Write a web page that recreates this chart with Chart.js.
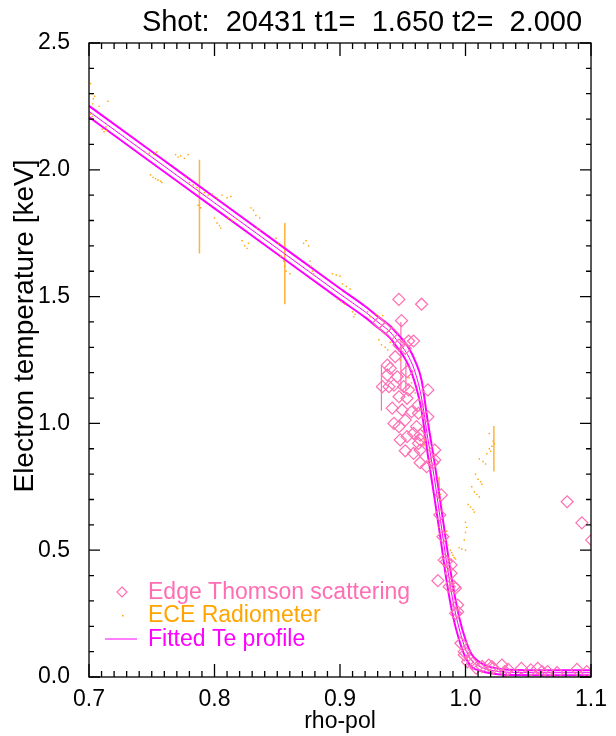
<!DOCTYPE html>
<html>
<head>
<meta charset="utf-8">
<script src="https://cdn.jsdelivr.net/npm/chart.js@4.4.1/dist/chart.umd.min.js"></script>
<style>
  body { margin: 0; background: #fff; }
  canvas { display: block; }
</style>
</head>
<body>
<canvas id="myChart" width="616" height="736"></canvas>
<script>
const ctx = document.getElementById("myChart");

const titleText = "Shot:  20431 t1=  1.650 t2=  2.000";
const xTitle = "rho-pol";
const yTitle = "Electron temperature [keV]";
const xTicks = [0.7, 0.8, 0.9, 1.0, 1.1];
const yTicks = [0.0, 0.5, 1.0, 1.5, 2.0, 2.5];

// fitted Te profile (centre and two bounds)
const fitRho = [0.70, 0.75, 0.80, 0.85, 0.90, 0.92, 0.93, 0.94, 0.945, 0.95, 0.955, 0.96, 0.965, 0.97,
  0.975, 0.98, 0.985, 0.99, 0.995, 1.00, 1.005, 1.01, 1.015, 1.02, 1.03, 1.04, 1.06, 1.10];
const fitTe = [2.23, 2.05, 1.87, 1.69, 1.51, 1.44, 1.40, 1.36, 1.33, 1.30, 1.26, 1.20, 1.10, 0.94,
  0.79, 0.62, 0.45, 0.30, 0.19, 0.11, 0.064, 0.045, 0.034, 0.027, 0.020, 0.018, 0.017, 0.017];
const fitTeUpper = [2.252, 2.072, 1.892, 1.712, 1.532, 1.462, 1.422, 1.384, 1.357, 1.33, 1.295, 1.245, 1.17, 1.005,
  0.856, 0.69, 0.517, 0.36, 0.235, 0.147, 0.089, 0.063, 0.048, 0.039, 0.031, 0.028, 0.027, 0.027];
const fitTeLower = [2.208, 2.028, 1.848, 1.668, 1.488, 1.418, 1.378, 1.336, 1.303, 1.27, 1.225, 1.155, 1.05, 0.875,
  0.716, 0.55, 0.377, 0.24, 0.145, 0.077, 0.039, 0.027, 0.02, 0.015, 0.009, 0.008, 0.007, 0.007];

// edge Thomson scattering
const tsRho = [0.9469, 0.965, 0.949, 0.931, 0.936, 0.9416, 0.9547, 0.9586, 0.947, 0.952, 0.944, 0.9377, 0.940,
  0.9377, 0.9456, 0.9534, 0.9338, 0.939, 0.943, 0.9508, 0.9547, 0.970, 0.947, 0.9534, 0.9416, 0.9495, 0.957,
  0.9625, 0.970, 0.943, 0.947, 0.952, 0.961, 0.9534, 0.9586, 0.9638, 0.948, 0.9625, 0.952, 0.9586, 0.9638,
  0.9638, 0.969, 0.9755, 0.9755, 0.9625, 0.964, 0.974,
  0.9807, 0.9795, 0.982, 0.978, 0.983, 0.9847, 0.9885, 0.9885, 0.987, 0.991, 0.992, 0.9938, 0.9938, 0.992,
  0.9963, 0.999, 0.999, 1.0016, 1.0055, 1.0085, 1.0133, 1.0185, 1.021, 1.022, 1.029, 1.0315, 1.034, 1.0445,
  1.052, 1.0576, 1.061, 1.0654, 1.073, 1.0888, 1.0966, 1.081, 1.0927, 1.1005];
const tsTe = [1.489, 1.470, 1.405, 1.397, 1.375, 1.355, 1.325, 1.325, 1.309, 1.296, 1.263, 1.230, 1.217,
  1.191, 1.184, 1.204, 1.145, 1.145, 1.151, 1.145, 1.132, 1.132, 1.105, 1.099, 1.060, 1.053, 1.046,
  1.073, 1.026, 1.000, 0.987, 1.013, 0.987, 0.948, 0.961, 0.954, 0.935, 0.921, 0.892, 0.882, 0.895,
  0.845, 0.829, 0.856, 0.895, 1.040, 0.935, 0.845,
  0.718, 0.639, 0.553, 0.380, 0.461, 0.455, 0.442, 0.409, 0.356, 0.356, 0.350, 0.284, 0.257, 0.251,
  0.133, 0.100, 0.087, 0.060, 0.054, 0.035, 0.041, 0.047, 0.041, 0.035, 0.047, 0.022, 0.030, 0.034,
  0.028, 0.034, 0.021, 0.021, 0.017, 0.030, 0.021, 0.691, 0.608, 0.540];
const tsErrRho = [0.933, 0.9485, 0.9525];
const tsErrLow = [1.05, 1.13, 1.13];
const tsErrHigh = [1.23, 1.40, 1.24];

// ECE radiometer
const eceRho = [0.7013, 0.7025, 0.7035, 0.7045, 0.703, 0.701, 0.7025, 0.7035, 0.708, 0.7105, 0.712, 0.714, 0.715, 0.7135,
  0.745, 0.748, 0.752, 0.754, 0.749, 0.751, 0.753, 0.755, 0.757, 0.758,
  0.769, 0.771, 0.773, 0.776, 0.779,
  0.777, 0.780, 0.783, 0.786, 0.788, 0.787, 0.789,
  0.792, 0.795, 0.798, 0.802, 0.806, 0.810, 0.813,
  0.800, 0.802, 0.804, 0.805, 0.811, 0.814, 0.818,
  0.822, 0.824, 0.826, 0.827, 0.829, 0.831, 0.833, 0.836, 0.834, 0.836,
  0.849, 0.851, 0.853, 0.855, 0.856, 0.857, 0.860,
  0.871, 0.873, 0.875, 0.876, 0.877, 0.878, 0.879,
  0.894, 0.897, 0.900, 0.902, 0.905, 0.908, 0.898, 0.901, 0.904, 0.910, 0.911, 0.912,
  0.922, 0.924, 0.929, 0.931, 0.934, 0.931, 0.933, 0.936, 0.938, 0.940,
  0.948, 0.952, 0.955, 0.957, 0.958, 0.960, 0.963, 0.966, 0.967, 0.968,
  0.978, 0.979, 0.980, 0.980, 0.981, 0.979, 0.981, 0.983, 0.985, 0.984, 0.986, 0.988, 0.989, 0.990,
  0.991, 0.992, 0.987, 0.995, 0.997, 1.000, 0.999, 1.000, 1.001, 1.000, 1.004, 1.006, 1.007, 1.002,
  1.005, 1.007, 1.009, 1.011, 1.008, 1.010, 1.012, 1.013, 1.011, 1.014, 1.016, 1.017, 1.019, 1.021,
  1.022, 1.023, 1.020, 1.019];
const eceTe = [2.34, 2.30, 2.28, 2.29, 2.26, 2.22, 2.21, 2.20, 2.25, 2.16, 2.15, 2.155, 2.27, 2.17,
  2.07, 2.065, 2.06, 2.07, 1.98, 1.97, 1.965, 1.96, 1.955, 1.95,
  2.06, 2.05, 2.055, 2.045, 2.06,
  1.97, 1.95, 1.94, 1.93, 1.91, 1.86, 1.85,
  1.91, 1.90, 1.905, 1.89, 1.90, 1.89, 1.895,
  1.81, 1.79, 1.78, 1.77, 1.81, 1.80, 1.805,
  1.72, 1.70, 1.69, 1.71, 1.85, 1.84, 1.82, 1.81, 1.77, 1.76,
  1.73, 1.71, 1.66, 1.64, 1.62, 1.60, 1.59,
  1.71, 1.72, 1.70, 1.64, 1.62, 1.60, 1.59,
  1.59, 1.585, 1.58, 1.55, 1.54, 1.53, 1.49, 1.48, 1.47, 1.44, 1.42, 1.43,
  1.44, 1.42, 1.43, 1.42, 1.425, 1.33, 1.31, 1.30, 1.29, 1.32,
  1.25, 1.22, 1.18, 1.16, 1.14, 1.12, 1.05, 0.97, 0.94, 0.92,
  0.78, 0.75, 0.72, 0.70, 0.68, 0.59, 0.58, 0.57, 0.575, 0.54, 0.52, 0.50, 0.49, 0.48,
  0.47, 0.465, 0.46, 0.51, 0.505, 0.50, 0.54, 0.57, 0.59, 0.61, 0.67, 0.66, 0.65, 0.68,
  0.75, 0.73, 0.72, 0.71, 0.80, 0.78, 0.77, 0.76, 0.86, 0.85, 0.84, 0.88, 0.90, 0.91,
  0.93, 0.92, 0.89, 0.96];
const eceErrRho = [0.788, 0.856, 0.967, 0.979, 1.0226];
const eceErrLow = [1.67, 1.47, 0.91, 0.71, 0.81];
const eceErrHigh = [2.04, 1.79, 0.98, 0.79, 0.99];

const tsColor = "#ff6eb4";
const eceColor = "#ffa500";
const fitColor = "#ff00ff";
const font = "'Liberation Sans', Arial, sans-serif";

const pts = (xs, ys) => xs.map((x, i) => ({ x: x, y: ys[i] }));
const bars = (xs, lo, hi) => xs.flatMap((x, i) => [{ x: x, y: lo[i] }, { x: x, y: hi[i] }, { x: x, y: null }]);

// IDL style frame with inward ticks and all the titles
const idlFrame = {
  id: "idlFrame",
  afterDraw(chart) {
    const c = chart.ctx;
    const a = chart.chartArea;
    const xs = chart.scales.x;
    const ys = chart.scales.y;
    c.save();
    c.strokeStyle = "#000";
    c.lineWidth = 1.3;
    c.strokeRect(a.left, a.top, a.right - a.left, a.bottom - a.top);
    c.beginPath();
    for (let i = 0; i <= 40; i++) {
      const px = xs.getPixelForValue(0.7 + i * 0.01);
      const len = i % 10 === 0 ? 13 : 6;
      c.moveTo(px, a.bottom); c.lineTo(px, a.bottom - len);
      c.moveTo(px, a.top); c.lineTo(px, a.top + len);
    }
    for (let i = 0; i <= 25; i++) {
      const py = ys.getPixelForValue(i * 0.1);
      const len = i % 5 === 0 ? 11 : 5;
      c.moveTo(a.left, py); c.lineTo(a.left + len, py);
      c.moveTo(a.right, py); c.lineTo(a.right - len, py);
    }
    c.stroke();

    c.fillStyle = "#000";
    c.textAlign = "center";
    c.textBaseline = "alphabetic";
    c.font = "29px " + font;
    c.fillText(titleText, 362, 31);
    c.font = "23px " + font;
    c.fillText(xTitle, (a.left + a.right) / 2, 728);
    c.font = "28px " + font;
    c.translate(33, 326);
    c.rotate(-Math.PI / 2);
    c.fillText(yTitle, 0, 0);
    c.restore();

    // legend inside the plot
    c.save();
    c.font = "23px " + font;
    c.textAlign = "left";
    c.textBaseline = "middle";
    const lx = 148;
    const rows = [592, 615, 639];
    c.strokeStyle = tsColor;
    c.lineWidth = 1.2;
    c.beginPath();
    c.moveTo(122, rows[0] - 5); c.lineTo(127, rows[0]); c.lineTo(122, rows[0] + 5); c.lineTo(117, rows[0]);
    c.closePath();
    c.stroke();
    c.fillStyle = tsColor;
    c.fillText(chart.data.datasets[0].label, lx, rows[0] + 1);
    c.fillStyle = eceColor;
    c.fillRect(122, rows[1], 1.5, 1.5);
    c.fillText(chart.data.datasets[1].label, lx, rows[1] + 1);
    c.strokeStyle = fitColor;
    c.lineWidth = 1;
    c.beginPath();
    c.moveTo(105, rows[2]); c.lineTo(137, rows[2]);
    c.stroke();
    c.fillStyle = fitColor;
    c.fillText(chart.data.datasets[2].label, lx, rows[2] + 1);
    c.restore();
  },
};

const fitLine = (label, ys, w) => ({
  type: "line",
  label: label,
  data: pts(fitRho, ys),
  borderColor: fitColor,
  borderWidth: w,
  pointRadius: 0,
  cubicInterpolationMode: "monotone",
  fill: false,
});

new Chart(ctx, {
  type: "scatter",
  data: {
    datasets: [
      {
        label: "Edge Thomson scattering",
        data: pts(tsRho, tsTe),
        pointStyle: "rectRot",
        pointRadius: 6,
        borderColor: tsColor,
        borderWidth: 1.2,
        backgroundColor: "rgba(0,0,0,0)",
        clip: 0,
      },
      {
        label: "ECE Radiometer",
        data: pts(eceRho, eceTe),
        pointStyle: "rect",
        pointRadius: 1,
        borderWidth: 0,
        backgroundColor: eceColor,
      },
      fitLine("Fitted Te profile", fitTe, 1),
      fitLine("upper", fitTeUpper, 2),
      fitLine("lower", fitTeLower, 2),
      {
        type: "line",
        label: "ECE errors",
        data: bars(eceErrRho, eceErrLow, eceErrHigh),
        borderColor: "#ffb23e",
        borderWidth: 1.5,
        pointRadius: 0,
        spanGaps: false,
      },
      {
        type: "line",
        label: "TS errors",
        data: bars(tsErrRho, tsErrLow, tsErrHigh),
        borderColor: tsColor,
        borderWidth: 1.2,
        pointRadius: 0,
        spanGaps: false,
      },
    ],
  },
  options: {
    responsive: false,
    animation: false,
    devicePixelRatio: 1,
    layout: { padding: { top: 43, right: 15, left: 0, bottom: 0 } },
    plugins: { legend: { display: false }, tooltip: { enabled: false } },
    scales: {
      x: {
        type: "linear",
        min: 0.7,
        max: 1.1,
        afterBuildTicks: (s) => { s.ticks = xTicks.map((v) => ({ value: v })); },
        afterFit: (s) => { s.height = 59; },
        grid: { display: false, drawTicks: false },
        border: { display: false },
        ticks: {
          color: "#000",
          padding: 9,
          maxRotation: 0,
          font: { family: font, size: 23 },
          callback: (v) => v.toFixed(1),
        },
      },
      y: {
        type: "linear",
        min: 0,
        max: 2.5,
        afterBuildTicks: (s) => { s.ticks = yTicks.map((v) => ({ value: v })); },
        afterFit: (s) => { s.width = 89; },
        grid: { display: false, drawTicks: false },
        border: { display: false },
        ticks: {
          color: "#000",
          padding: 19,
          font: { family: font, size: 23 },
          callback: (v) => v.toFixed(1),
        },
      },
    },
  },
  plugins: [idlFrame],
});
</script>
</body>
</html>
